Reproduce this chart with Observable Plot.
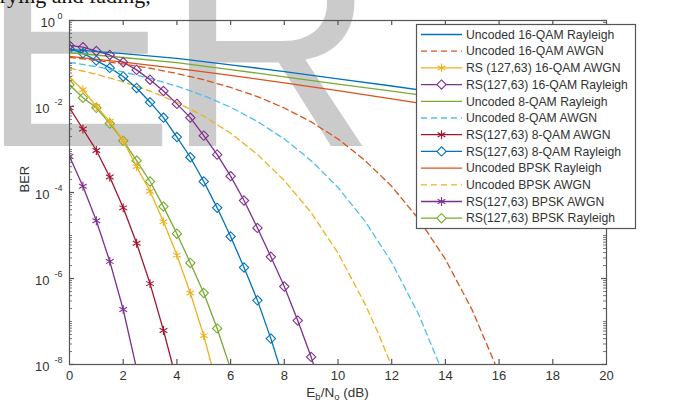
<!DOCTYPE html>
<html><head><meta charset="utf-8">
<script src="https://cdn.jsdelivr.net/npm/d3@7"></script>
<script src="https://cdn.jsdelivr.net/npm/@observablehq/plot@0.6"></script>
<style>
body{margin:0;background:#fff;}
#chart{position:relative;width:688px;height:410px;overflow:hidden;}
</style></head><body><div id="chart"></div>
<script>
// ---- data ----
const ebnoRay = [0,2,4,6,8,10,12,14,16,18,20];
const uncoded16Ray = [0.214,0.170,0.132,0.093,0.065,0.044,0.030,0.020,0.0135,0.0089,0.0058];
const uncoded8Ray  = [0.178,0.138,0.105,0.0724,0.049,0.0331,0.0229,0.0155,0.0105,0.0069,0.0046];
const uncodedBpskRay = [0.146,0.108,0.077,0.053,0.0355,0.0233,0.0150,0.0097,0.0062,0.0039,0.0025];

const ebno16Awgn = [0,1,2,3,4,5,6,7,8,9,10,11,12,13,14,15,16];
const uncoded16Awgn = [0.139,0.118,0.0976,0.0775,0.0586,0.0418,0.0278,0.0170,0.00924,0.00439,0.00176,5.6e-4,1.39e-4,2.43e-5,2.8e-6,1.84e-7,6.2e-9];
const ebno8Awgn = [0,1,2,3,4,5,6,7,8,9,10,11,12,13,14];
const uncoded8Awgn = [0.1068,0.0843,0.0635,0.0450,0.0297,0.0179,0.00963,0.00449,0.00176,5.5e-4,1.31e-4,2.18e-5,2.38e-6,1.48e-7,4.6e-9];
const ebnoBpskAwgn = [0,1,2,3,4,5,6,7,8,9,10,11,11.5,12];
const uncodedBpskAwgn = [0.0786,0.0563,0.0375,0.0229,0.0125,0.00595,0.00239,7.7e-4,1.9e-4,3.4e-5,3.9e-6,2.6e-7,5.3e-8,9.0e-9];

const ebnoRsBpskAwgn = [0,0.5,1,1.5,2,2.5];
const rsBpskAwgn = [6.9e-4,1.4e-4,2.2e-5,2.5e-6,1.9e-7,7.9e-9];
const ebnoRs8Awgn = [0,0.5,1,1.5,2,2.5,3,3.5,4];
const rs8Awgn = [9.3e-3,3.0e-3,9.5e-4,2.3e-4,4.4e-5,6.6e-6,7.6e-7,6.2e-8,4.0e-9];
const ebnoRs16Awgn = [0,0.5,1,1.5,2,2.5,3,3.5,4,4.5,5,5.5];
const rs16Awgn = [4.7e-2,2.45e-2,1.0e-2,4.5e-3,1.6e-3,4.0e-4,1.07e-4,2.1e-5,3.5e-6,4.6e-7,4.7e-8,3.2e-9];
const ebnoRsBpskRay = [0,0.5,1,1.5,2,2.5,3,3.5,4,4.5,5,5.5,6];
const rsBpskRay = [3.2e-2,1.6e-2,9.3e-3,4.0e-3,1.6e-3,5.5e-4,1.8e-4,4.7e-5,1.1e-5,2.3e-6,4.6e-7,6.9e-8,7.9e-9];
const ebnoRs8Ray = [0,0.5,1,1.5,2,2.5,3,3.5,4,4.5,5,5.5,6,6.5,7,7.5,8];
const rs8Ray = [0.219,0.174,0.117,0.079,0.050,0.027,0.0126,5.5e-3,1.95e-3,6.6e-4,1.8e-4,4.4e-5,9.5e-6,1.8e-6,3.1e-7,4.0e-8,4.0e-9];
const ebnoRs16Ray = [0,0.5,1,1.5,2,2.5,3,3.5,4,4.5,5,5.5,6,6.5,7,7.5,8,8.5,9,9.5];
const rs16Ray = [0.263,0.240,0.195,0.158,0.107,0.071,0.042,0.023,0.0115,5.5e-3,2.1e-3,7.6e-4,2.4e-4,6.5e-5,1.5e-5,3.2e-6,6.5e-7,1.05e-7,1.5e-8,1.6e-9];

const seriesNames = [
  "Uncoded 16-QAM Rayleigh","Uncoded 16-QAM AWGN","RS (127,63) 16-QAM AWGN","RS(127,63) 16-QAM Rayleigh",
  "Uncoded 8-QAM Rayleigh","Uncoded 8-QAM AWGN","RS(127,63) 8-QAM AWGN","RS(127,63) 8-QAM Rayleigh",
  "Uncoded BPSK Rayleigh","Uncoded BPSK AWGN","RS(127,63) BPSK AWGN","RS(127,63) BPSK Rayleigh"
];
const xTicks = [0,2,4,6,8,10,12,14,16,18,20];
const yExponents = [0,-2,-4,-6,-8];
const watermarkLetters = ["E","R"];
const cutOffText = "varying and fading,";

// ---- styling ----
const C = {blue:"#0072BD", orange:"#D95319", yellow:"#EDB120", purple:"#7E2F8E", green:"#77AC30", cyan:"#4DBEEE", red:"#A2142F"};
const series = [
  {x: ebnoRay, y: uncoded16Ray, color: C.blue, dash: null, marker: null},
  {x: ebno16Awgn, y: uncoded16Awgn, color: C.orange, dash: "6,4", marker: null},
  {x: ebnoRs16Awgn, y: rs16Awgn, color: C.yellow, dash: null, marker: "asterisk"},
  {x: ebnoRs16Ray, y: rs16Ray, color: C.purple, dash: null, marker: "diamond2"},
  {x: ebnoRay, y: uncoded8Ray, color: C.green, dash: null, marker: null},
  {x: ebno8Awgn, y: uncoded8Awgn, color: C.cyan, dash: "6,4", marker: null},
  {x: ebnoRs8Awgn, y: rs8Awgn, color: C.red, dash: null, marker: "asterisk"},
  {x: ebnoRs8Ray, y: rs8Ray, color: C.blue, dash: null, marker: "diamond2"},
  {x: ebnoRay, y: uncodedBpskRay, color: C.orange, dash: null, marker: null},
  {x: ebnoBpskAwgn, y: uncodedBpskAwgn, color: C.yellow, dash: "6,4", marker: null},
  {x: ebnoRsBpskAwgn, y: rsBpskAwgn, color: C.purple, dash: null, marker: "asterisk"},
  {x: ebnoRsBpskRay, y: rsBpskRay, color: C.green, dash: null, marker: "diamond2"}
].map((s,i)=>({...s, name: seriesNames[i], rows: s.x.map((v,j)=>({x:v, y:s.y[j]}))}));

const W = 688, H = 410, mT = 20, mB = 46, mL = 69, mR = 82;
const fw = W - mL - mR, fh = H - mT - mB;
const axisColor = "#555";
const textColor = "#333";
const FONT = "'Liberation Sans', Arial, sans-serif";

// major/minor log ticks
const majorY = yExponents.map(k=>10**k);
const minorY = [];
for (let k=-8;k<0;k++) for (let d=1; d<10; d++) { const v = d*10**k; if (!(d===1 && (-k)%2===0)) minorY.push(v); }

const marks = [];
// draw in reverse so the first series is on top
series.slice().reverse().forEach(s=>{
  marks.push(Plot.line(s.rows, {x:"x", y:"y", stroke:s.color, strokeWidth:1.3, strokeDasharray:s.dash || undefined, clip:true}));
  if (s.marker) marks.push(Plot.dot(s.rows, {x:"x", y:"y", stroke:s.color, symbol:s.marker, r:4.2, strokeWidth:1.1, fill:"none", clip:true}));
});
marks.push(
  Plot.frame({stroke:axisColor, strokeWidth:1.2}),
  Plot.ruleX(xTicks.slice(1,-1), {x:d=>d, insetTop: fh-5, stroke:axisColor, strokeWidth:1.2}),
  Plot.ruleX(xTicks.slice(1,-1), {x:d=>d, insetBottom: fh-5, stroke:axisColor, strokeWidth:1.2}),
  Plot.ruleY(majorY, {y:d=>d, insetRight: fw-5, stroke:axisColor, strokeWidth:1.2}),
  Plot.ruleY(majorY, {y:d=>d, insetLeft: fw-5, stroke:axisColor, strokeWidth:1.2}),
  Plot.ruleY(minorY, {y:d=>d, insetRight: fw-3, stroke:axisColor, strokeWidth:0.8}),
  Plot.ruleY(minorY, {y:d=>d, insetLeft: fw-3, stroke:axisColor, strokeWidth:0.8}),
  Plot.text(xTicks, {x:d=>d, frameAnchor:"bottom", dy:15, text:d=>String(d), fontSize:13, fill:textColor}),
  Plot.text(yExponents.filter(e=>e===0), {y:d=>10**d, frameAnchor:"left", dx:-14.5, dy:2, text:()=>"10", textAnchor:"end", fontSize:13, fill:textColor}),
  Plot.text(yExponents.filter(e=>e!==0), {y:d=>10**d, frameAnchor:"left", dx:-20, dy:2, text:()=>"10", textAnchor:"end", fontSize:13, fill:textColor}),
  Plot.text(yExponents, {y:d=>10**d, frameAnchor:"left", dx:-7, dy:-4, text:d=>d===0?"0":"-"+(-d), textAnchor:"end", fontSize:9, fill:textColor}),
  Plot.text(["BER"], {frameAnchor:"left", dx:-45, rotate:-90, text:d=>d, fontSize:13, fill:textColor})
);

const plot = Plot.plot({
  width: W, height: H, marginTop: mT, marginBottom: mB, marginLeft: mL, marginRight: mR,
  x: {domain:[0,20], axis:null},
  y: {type:"log", domain:[1e-8,1], axis:null},
  style: {background:"white", fontFamily:FONT, overflow:"visible"},
  marks
});
document.getElementById("chart").appendChild(plot);
const svg = d3.select(plot);

// watermark behind everything
const wm = svg.insert("g", ":first-child").attr("font-family",FONT).attr("font-size",292)
  .attr("text-anchor","start").attr("fill","#cbcbcb");
wm.append("text").attr("x",-20).attr("y",146).text(watermarkLetters[0]);
wm.append("text").attr("x",165).attr("y",146).text(watermarkLetters[1]);
svg.insert("rect", ":first-child").attr("width",W).attr("height",H).attr("fill","white");

// cut-off body text at the very top
svg.append("text").attr("x",-21).attr("y",3).attr("text-anchor","start")
  .attr("font-family","'Liberation Serif', 'Times New Roman', serif").attr("font-size",22)
  .attr("fill","#111").text(cutOffText);

// x-axis label with subscripts
const xl = svg.append("text").attr("x",(mL + W - mR)/2).attr("y",397).attr("text-anchor","middle")
  .attr("font-size",13.5).attr("fill",textColor).attr("font-family",FONT);
xl.append("tspan").text("E");
xl.append("tspan").attr("font-size",9.5).attr("dy",3).text("b");
xl.append("tspan").attr("dy",-3).text("/N");
xl.append("tspan").attr("font-size",9.5).attr("dy",3).text("o");
xl.append("tspan").attr("dy",-3).text(" (dB)");

// legend
const lg = svg.append("g").attr("font-family",FONT).attr("text-anchor","start");
lg.append("rect").attr("x",416.5).attr("y",24.5).attr("width",219).attr("height",204)
  .attr("fill","white").attr("stroke",axisColor).attr("stroke-width",1.2);
const symType = {asterisk: d3.symbolAsterisk, diamond2: d3.symbolDiamond2};
series.forEach((s,i)=>{
  const y = 34.5 + i*16.7;
  lg.append("line").attr("x1",421).attr("x2",462).attr("y1",y).attr("y2",y)
    .attr("stroke",s.color).attr("stroke-width",1.3).attr("stroke-dasharray",s.dash);
  if (s.marker) lg.append("path").attr("transform",`translate(441.5,${y})`)
    .attr("d", d3.symbol(symType[s.marker], Math.PI*4.2*4.2)()).attr("fill","white")
    .attr("stroke",s.color).attr("stroke-width",1.1);
  lg.append("text").attr("x",466).attr("y",y).attr("dy","0.35em").attr("font-size",12.2)
    .attr("text-anchor","start").attr("fill",textColor).text(s.name);
});
</script>
</body></html>
